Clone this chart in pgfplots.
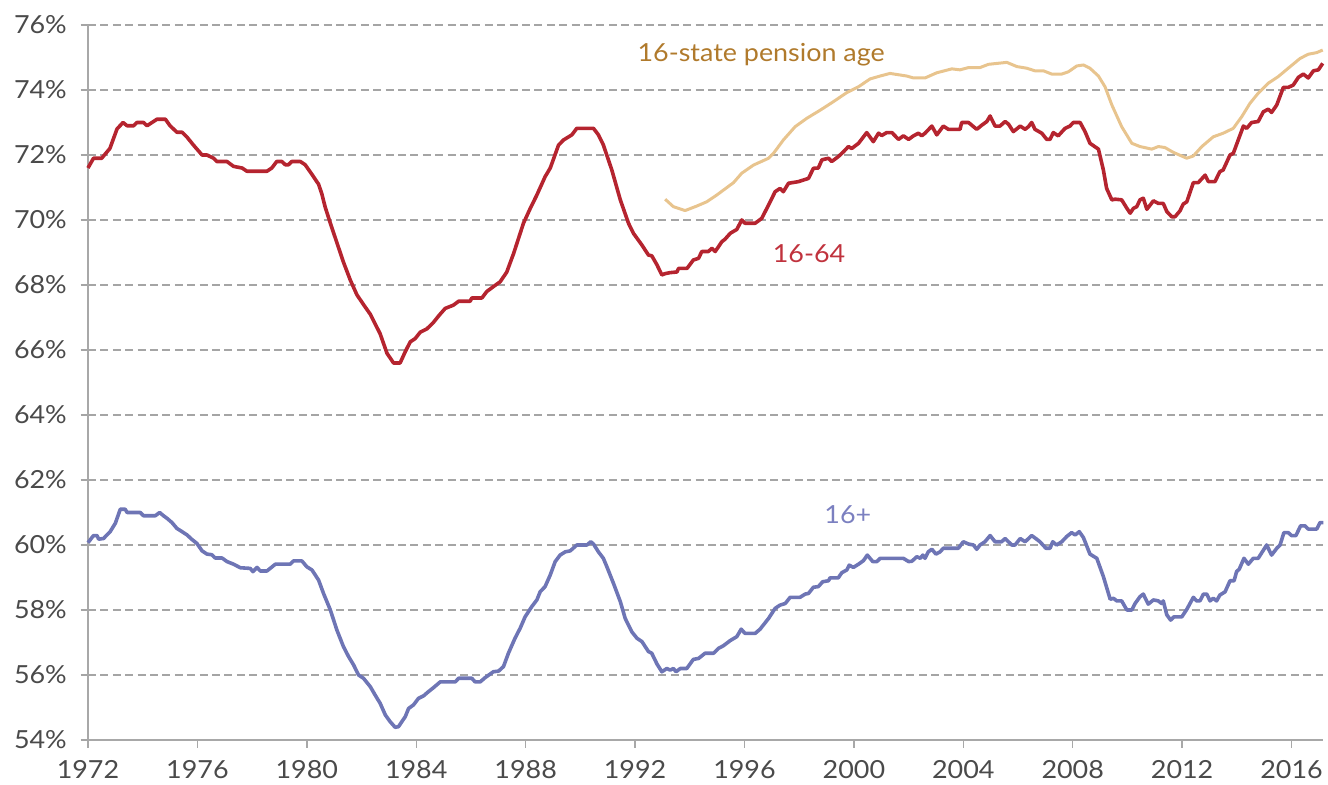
\documentclass[border=0pt]{standalone}
\usepackage{pgfplots}
\pgfplotsset{compat=1.18}
\usepackage{fontspec}
\setmainfont[FakeStretch=1.08]{Lato}
\definecolor{redline}{HTML}{B5242F}
\definecolor{redlab}{HTML}{C0323D}
\definecolor{blueline}{HTML}{6E75B5}
\definecolor{bluelab}{HTML}{7B80C0}
\definecolor{beigeline}{HTML}{E8C48E}
\definecolor{beigelab}{HTML}{B07A2C}
\definecolor{gridgray}{HTML}{A5A5A5}
\definecolor{axgray}{HTML}{A8A8A8}
\definecolor{ticktext}{HTML}{4A4A4A}
\begin{document}
\begin{tikzpicture}
\fontsize{12.5}{15}\selectfont
\begin{axis}[
  name=main,
  scale only axis,
  width=617.5bp, height=357.5bp,
  xmin=1972, xmax=2017.15, ymin=54, ymax=76,
  axis x line*=bottom, axis y line*=left,
  axis line style={axgray, line width=0.7bp},
  xtick={1972,1976,1980,1984,1988,1992,1996,2000,2004,2008,2012,2016},
  xticklabels={1972,1976,1980,1984,1988,1992,1996,2000,2004,2008,2012,2016},
  ytick={54,56,58,60,62,64,66,68,70,72,74,76},
  yticklabels={54\%,56\%,58\%,60\%,62\%,64\%,66\%,68\%,70\%,72\%,74\%,76\%},
  tick align=outside,
  major tick length=3.75bp,
  x tick style={axgray, line width=0.7bp},
  y tick style={gridgray, line width=1bp, dash pattern=on 4bp off 2bp},
  ymajorgrids,
  grid style={gridgray, line width=1bp, dash pattern=on 4bp off 2.2bp},
  ticklabel style={text=ticktext, font=\fontsize{12.5}{15}\selectfont},
  xticklabel style={yshift=-2bp},
  yticklabel style={xshift=-2.5bp},
  clip=false,
]
\addplot[beigeline, line width=1.5bp, line join=round] coordinates {
(1993.1,70.64)(1993.4,70.41)(1993.83,70.29)(1994.26,70.43)(1994.62,70.56)(1994.99,70.77)(1995.6,71.15)(1995.9,71.44)(1996.33,71.69)(1996.88,71.9)(1997.06,72.05)(1997.42,72.46)(1997.85,72.87)(1998.28,73.13)(1998.77,73.38)(1999.25,73.64)(1999.74,73.92)(2000.17,74.1)(2000.59,74.34)(2000.96,74.43)(2001.32,74.51)(2001.93,74.43)(2002.18,74.37)(2002.6,74.37)(2003.03,74.53)(2003.58,74.65)(2003.88,74.62)(2004.19,74.69)(2004.61,74.69)(2004.92,74.79)(2005.59,74.85)(2005.96,74.72)(2006.32,74.67)(2006.62,74.59)(2006.93,74.59)(2007.23,74.49)(2007.6,74.49)(2007.84,74.56)(2008.15,74.74)(2008.39,74.77)(2008.63,74.67)(2008.94,74.43)(2009.18,74.1)(2009.43,73.54)(2009.79,72.87)(2010.16,72.36)(2010.46,72.26)(2010.89,72.18)(2011.13,72.26)(2011.37,72.23)(2011.68,72.08)(2012.17,71.9)(2012.41,71.97)(2012.72,72.26)(2013.14,72.56)(2013.5,72.67)(2013.87,72.82)(2014.18,73.18)(2014.48,73.59)(2014.78,73.9)(2015.15,74.21)(2015.51,74.41)(2015.88,74.67)(2016.31,74.97)(2016.61,75.1)(2016.92,75.15)(2017.14,75.23)
};
\addplot[redline, line width=1.8bp, line join=round] coordinates {
(1972.0,71.6)(1972.2,71.9)(1972.5,71.9)(1972.8,72.2)(1973.06,72.8)(1973.28,73.0)(1973.43,72.9)(1973.67,72.9)(1973.79,73.0)(1974.03,73.0)(1974.16,72.9)(1974.34,73.0)(1974.52,73.1)(1974.83,73.1)(1975.0,72.9)(1975.25,72.7)(1975.44,72.7)(1975.62,72.55)(1975.86,72.3)(1976.17,72.0)(1976.35,72.0)(1976.59,71.9)(1976.71,71.8)(1977.08,71.8)(1977.32,71.65)(1977.63,71.6)(1977.81,71.5)(1978.54,71.5)(1978.72,71.6)(1978.9,71.8)(1979.09,71.8)(1979.21,71.7)(1979.33,71.7)(1979.45,71.8)(1979.76,71.8)(1979.94,71.7)(1980.19,71.4)(1980.43,71.1)(1980.55,70.8)(1980.67,70.4)(1980.86,69.9)(1981.1,69.3)(1981.34,68.7)(1981.59,68.15)(1981.83,67.7)(1982.07,67.4)(1982.32,67.1)(1982.5,66.8)(1982.68,66.5)(1982.93,65.9)(1983.17,65.6)(1983.41,65.6)(1983.6,65.95)(1983.78,66.25)(1983.96,66.35)(1984.15,66.55)(1984.39,66.65)(1984.63,66.85)(1984.85,67.08)(1985.06,67.28)(1985.36,67.38)(1985.55,67.5)(1985.97,67.5)(1986.03,67.6)(1986.4,67.6)(1986.58,67.8)(1986.82,67.95)(1987.07,68.1)(1987.31,68.4)(1987.56,68.97)(1987.92,69.9)(1988.17,70.36)(1988.41,70.77)(1988.71,71.33)(1988.9,71.6)(1989.2,72.3)(1989.38,72.46)(1989.69,72.62)(1989.87,72.82)(1990.48,72.82)(1990.66,72.62)(1990.84,72.31)(1991.15,71.54)(1991.46,70.62)(1991.76,69.9)(1991.94,69.59)(1992.25,69.23)(1992.49,68.92)(1992.61,68.9)(1992.8,68.62)(1992.98,68.31)(1993.1,68.35)(1993.28,68.38)(1993.53,68.4)(1993.59,68.51)(1993.9,68.51)(1994.13,68.77)(1994.32,68.82)(1994.44,69.03)(1994.68,69.03)(1994.81,69.13)(1994.93,69.03)(1995.17,69.33)(1995.29,69.41)(1995.48,69.59)(1995.72,69.71)(1995.9,70.0)(1996.02,69.9)(1996.39,69.9)(1996.63,70.05)(1996.88,70.46)(1997.12,70.87)(1997.3,70.97)(1997.42,70.87)(1997.61,71.13)(1997.97,71.18)(1998.34,71.28)(1998.52,71.59)(1998.7,71.6)(1998.83,71.85)(1999.07,71.9)(1999.19,71.8)(1999.43,71.95)(1999.62,72.1)(1999.8,72.26)(1999.92,72.2)(2000.17,72.36)(2000.47,72.69)(2000.71,72.41)(2000.9,72.67)(2001.02,72.6)(2001.2,72.69)(2001.39,72.69)(2001.63,72.48)(2001.81,72.59)(2002.0,72.48)(2002.18,72.59)(2002.36,72.67)(2002.48,72.59)(2002.6,72.67)(2002.85,72.89)(2003.03,72.62)(2003.27,72.89)(2003.45,72.79)(2003.88,72.79)(2003.94,73.0)(2004.19,73.0)(2004.49,72.79)(2004.68,72.92)(2004.86,73.03)(2004.98,73.2)(2005.16,72.89)(2005.34,72.89)(2005.53,73.03)(2005.65,72.95)(2005.83,72.72)(2006.08,72.89)(2006.26,72.79)(2006.38,72.87)(2006.5,73.0)(2006.62,72.79)(2006.87,72.67)(2007.05,72.48)(2007.17,72.48)(2007.29,72.69)(2007.47,72.59)(2007.72,72.82)(2007.9,72.89)(2008.02,73.0)(2008.27,73.0)(2008.45,72.72)(2008.63,72.36)(2008.94,72.18)(2009.12,71.54)(2009.24,70.97)(2009.43,70.62)(2009.55,70.64)(2009.79,70.62)(2009.98,70.36)(2010.1,70.21)(2010.22,70.36)(2010.34,70.41)(2010.46,70.62)(2010.58,70.67)(2010.71,70.33)(2010.95,70.59)(2011.13,70.51)(2011.31,70.51)(2011.44,70.26)(2011.62,70.1)(2011.74,70.1)(2011.92,70.28)(2012.04,70.49)(2012.17,70.56)(2012.41,71.15)(2012.59,71.15)(2012.84,71.38)(2012.96,71.18)(2013.2,71.18)(2013.38,71.49)(2013.5,71.54)(2013.75,72.0)(2013.87,72.05)(2014.05,72.46)(2014.24,72.89)(2014.36,72.82)(2014.54,73.0)(2014.78,73.03)(2014.97,73.33)(2015.15,73.41)(2015.27,73.31)(2015.46,73.54)(2015.7,74.08)(2015.88,74.08)(2016.06,74.15)(2016.25,74.39)(2016.43,74.49)(2016.61,74.37)(2016.8,74.59)(2016.98,74.62)(2017.14,74.82)
};
\addplot[blueline, line width=1.8bp, line join=round] coordinates {
(1972.0,60.07)(1972.2,60.29)(1972.33,60.29)(1972.39,60.18)(1972.57,60.2)(1972.69,60.31)(1972.81,60.41)(1973.0,60.67)(1973.18,61.1)(1973.36,61.1)(1973.43,61.0)(1973.91,61.0)(1974.03,60.9)(1974.46,60.9)(1974.62,61.0)(1974.76,60.9)(1974.89,60.82)(1975.07,60.69)(1975.25,60.51)(1975.44,60.41)(1975.62,60.31)(1975.8,60.17)(1975.98,60.05)(1976.17,59.82)(1976.35,59.72)(1976.53,59.7)(1976.65,59.6)(1976.9,59.6)(1977.08,59.49)(1977.32,59.41)(1977.57,59.3)(1977.93,59.28)(1978.03,59.18)(1978.18,59.31)(1978.3,59.2)(1978.54,59.2)(1978.66,59.28)(1978.85,59.41)(1979.39,59.41)(1979.51,59.51)(1979.82,59.51)(1980.0,59.33)(1980.19,59.23)(1980.43,58.92)(1980.61,58.51)(1980.86,58.0)(1981.1,57.38)(1981.34,56.87)(1981.53,56.56)(1981.71,56.31)(1981.89,56.0)(1982.07,55.9)(1982.32,55.64)(1982.5,55.38)(1982.68,55.13)(1982.87,54.77)(1983.05,54.56)(1983.23,54.39)(1983.35,54.41)(1983.6,54.72)(1983.72,54.97)(1983.9,55.08)(1984.08,55.28)(1984.27,55.36)(1984.45,55.49)(1984.63,55.61)(1984.88,55.79)(1985.43,55.79)(1985.55,55.9)(1986.03,55.9)(1986.15,55.79)(1986.34,55.79)(1986.52,55.92)(1986.82,56.1)(1987.01,56.12)(1987.19,56.26)(1987.37,56.67)(1987.61,57.13)(1987.8,57.44)(1987.98,57.79)(1988.22,58.1)(1988.41,58.31)(1988.53,58.56)(1988.71,58.72)(1988.9,59.08)(1989.08,59.49)(1989.26,59.69)(1989.45,59.79)(1989.63,59.82)(1989.87,60.0)(1990.24,60.0)(1990.38,60.1)(1990.48,60.03)(1990.66,59.79)(1990.84,59.59)(1990.97,59.33)(1991.21,58.82)(1991.46,58.26)(1991.64,57.74)(1991.88,57.33)(1992.07,57.13)(1992.25,57.03)(1992.49,56.72)(1992.61,56.67)(1992.8,56.34)(1992.98,56.1)(1993.16,56.2)(1993.28,56.15)(1993.4,56.2)(1993.5,56.1)(1993.65,56.2)(1993.89,56.2)(1994.13,56.48)(1994.32,56.51)(1994.56,56.67)(1994.87,56.67)(1995.05,56.82)(1995.23,56.9)(1995.48,57.06)(1995.72,57.18)(1995.88,57.41)(1996.02,57.28)(1996.39,57.28)(1996.57,57.41)(1996.88,57.74)(1997.12,58.05)(1997.3,58.15)(1997.49,58.2)(1997.67,58.39)(1998.03,58.39)(1998.22,58.49)(1998.34,58.51)(1998.52,58.7)(1998.7,58.72)(1998.86,58.87)(1999.07,58.9)(1999.13,58.99)(1999.43,58.99)(1999.56,59.15)(1999.74,59.23)(1999.83,59.38)(1999.98,59.31)(2000.17,59.41)(2000.35,59.52)(2000.49,59.69)(2000.69,59.49)(2000.84,59.49)(2000.96,59.59)(2001.81,59.59)(2002.0,59.49)(2002.12,59.5)(2002.3,59.64)(2002.43,59.59)(2002.52,59.69)(2002.6,59.59)(2002.72,59.79)(2002.85,59.87)(2003.0,59.72)(2003.15,59.79)(2003.27,59.9)(2003.82,59.9)(2004.0,60.1)(2004.19,60.03)(2004.37,60.0)(2004.49,59.87)(2004.61,60.0)(2004.79,60.1)(2004.98,60.29)(2005.16,60.1)(2005.4,60.1)(2005.53,60.2)(2005.77,60.0)(2005.89,60.0)(2006.08,60.2)(2006.26,60.1)(2006.5,60.29)(2006.68,60.18)(2006.8,60.1)(2007.02,59.9)(2007.17,59.9)(2007.27,60.1)(2007.41,60.0)(2007.6,60.1)(2007.78,60.26)(2007.96,60.38)(2008.09,60.31)(2008.24,60.41)(2008.39,60.23)(2008.63,59.72)(2008.88,59.59)(2009.12,59.03)(2009.37,58.33)(2009.49,58.36)(2009.61,58.28)(2009.79,58.28)(2009.98,58.0)(2010.16,58.0)(2010.28,58.2)(2010.46,58.41)(2010.58,58.49)(2010.76,58.18)(2010.95,58.31)(2011.13,58.28)(2011.25,58.2)(2011.31,58.28)(2011.44,57.85)(2011.58,57.69)(2011.7,57.79)(2011.99,57.79)(2012.17,58.02)(2012.41,58.39)(2012.53,58.28)(2012.65,58.28)(2012.78,58.49)(2012.9,58.49)(2013.02,58.28)(2013.14,58.36)(2013.26,58.28)(2013.38,58.46)(2013.57,58.56)(2013.75,58.9)(2013.9,58.9)(2013.99,59.18)(2014.09,59.26)(2014.26,59.59)(2014.42,59.41)(2014.6,59.59)(2014.78,59.59)(2015.09,60.0)(2015.27,59.69)(2015.46,59.9)(2015.58,60.0)(2015.72,60.38)(2015.88,60.38)(2016.0,60.29)(2016.16,60.29)(2016.33,60.59)(2016.49,60.59)(2016.61,60.49)(2016.92,60.49)(2017.04,60.69)(2017.16,60.69)
};
\node[anchor=base, text=beigelab, inner sep=0pt] at (axis cs:1996.61,74.87) {16-state pension age};
\node[anchor=base, text=redlab, inner sep=0pt] at (axis cs:1998.36,68.69) {16-64};
\node[anchor=base, text=bluelab, inner sep=0pt] at (axis cs:1999.78,60.67) {16+};
\end{axis}
\pgfresetboundingbox
\path[use as bounding box] ([xshift=-44bp,yshift=-22.5bp]main.south west) rectangle ([xshift=2.5bp,yshift=12.5bp]main.north east);
\end{tikzpicture}
\end{document}
